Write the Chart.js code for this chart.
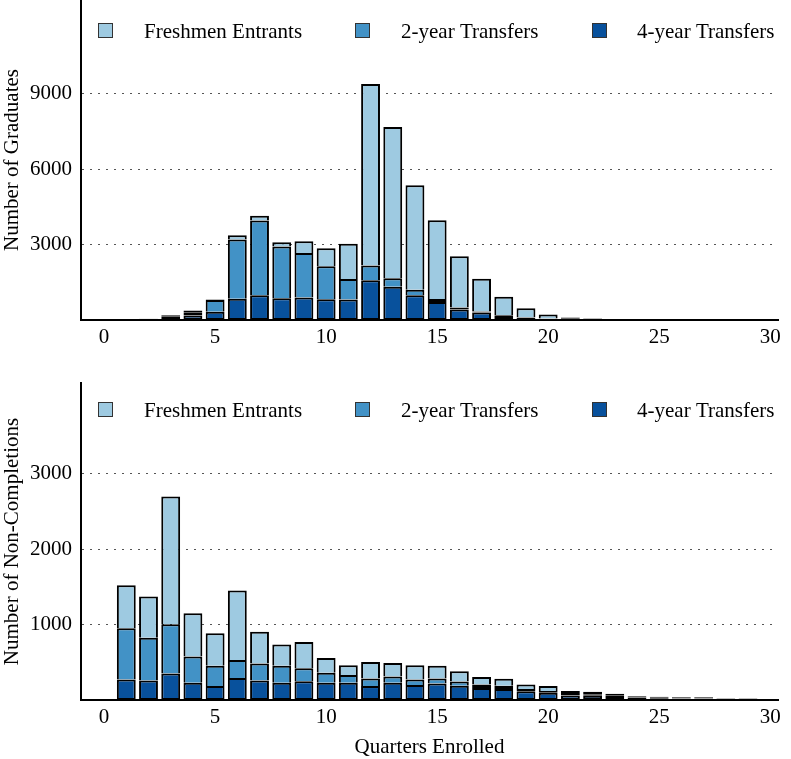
<!DOCTYPE html>
<html>
<head>
<meta charset="utf-8">
<title>Graduates and Non-Completions by Quarters Enrolled</title>
<script src="https://cdn.jsdelivr.net/npm/chart.js@4.4.0/dist/chart.umd.min.js"></script>
<style>
  html, body { margin: 0; padding: 0; background: #fff; }
  #wrap { position: relative; width: 791px; height: 759px; }
  canvas { position: absolute; left: 0; }
  #gradChart { top: 0; }
  #nonCompChart { top: 360px; }
</style>
</head>
<body>
<div id="wrap">
  <canvas id="gradChart" width="791" height="360"></canvas>
  <canvas id="nonCompChart" width="791" height="399"></canvas>
</div>
<script>
// quarters enrolled (x values)
const quarters = [1, 2, 3, 4, 5, 6, 7, 8, 9, 10, 11, 12, 13, 14, 15, 16, 17, 18, 19, 20, 21, 22, 23, 24, 25, 26, 27, 28, 29, 30];
const seriesNames = ['Freshmen Entrants', '2-year Transfers', '4-year Transfers'];

// graduates
const gradFreshmen = [15, 25, 30, 70, 15, 170, 190, 170, 460, 715, 1400, 7225, 6020, 4165, 3125, 2040, 1300, 730, 360, 160, 50, 30, 15, 10, 8, 6, 5, 4, 3, 2];
const gradTwoYear = [5, 5, 10, 130, 470, 2350, 2975, 2055, 1775, 1310, 820, 585, 340, 215, 120, 80, 40, 30, 20, 10, 10, 5, 5, 3, 2, 2, 1, 1, 1, 1];
const gradFourYear = [10, 20, 150, 180, 330, 850, 985, 865, 895, 825, 815, 1580, 1320, 985, 720, 415, 300, 160, 90, 50, 40, 25, 15, 10, 8, 6, 5, 4, 3, 2];

// non-completions
const nonCompFreshmen = [570, 545, 1690, 575, 430, 920, 420, 280, 350, 195, 130, 220, 180, 190, 170, 135, 100, 90, 60, 65, 40, 35, 27, 17, 15, 12, 12, 7, 7, 0];
const nonCompTwoYear = [680, 565, 655, 345, 270, 240, 225, 225, 170, 130, 100, 100, 80, 70, 65, 55, 45, 45, 30, 25, 20, 20, 15, 8, 7, 5, 5, 3, 3, 0];
const nonCompFourYear = [270, 260, 350, 230, 185, 290, 260, 230, 250, 230, 230, 185, 230, 200, 220, 190, 160, 145, 115, 95, 60, 55, 40, 25, 22, 18, 18, 10, 10, 0];

// tick labels
const xTicks = [0, 5, 10, 15, 20, 25, 30];
const gradYTicks = [3000, 6000, 9000];
const nonCompYTicks = [1000, 2000, 3000];

const colors = ['#9ecae1', '#4292c6', '#08519c'];
const legendBoxX = [98, 355, 592];
const legendTextX = [144, 401, 637];
const fontFamily = '"Liberation Serif", "Times New Roman", serif';

Chart.defaults.font.family = fontFamily;
Chart.defaults.font.size = 21;
Chart.defaults.color = '#000';

// legend drawn inside the plot, spaced like the original
const boxLegend = {
  id: 'boxLegend',
  afterDraw(chart, args, opts) {
    const ctx = chart.ctx;
    const sets = chart.data.datasets.slice().reverse();
    ctx.save();
    ctx.font = '21px ' + fontFamily;
    ctx.textBaseline = 'alphabetic';
    sets.forEach((ds, i) => {
      ctx.fillStyle = ds.backgroundColor;
      ctx.fillRect(legendBoxX[i] + 0.5, opts.boxTop + 0.5, 14, 14);
      ctx.strokeStyle = '#333';
      ctx.lineWidth = 1;
      ctx.strokeRect(legendBoxX[i] + 0.5, opts.boxTop + 0.5, 14, 14);
      ctx.fillStyle = '#000';
      ctx.fillText(ds.label, legendTextX[i], opts.baseline);
    });
    ctx.restore();
  }
};

const toPoints = (values) => quarters.map((q, i) => ({ x: q, y: values[i] }));

const bw = 2;
// upper segments skip their bottom edge (the segment below draws it),
// except very thin ones, which then come out fully outlined
const edges = (isBase) => (c) => {
  const y = c.chart.scales.y;
  const v = c.raw ? c.raw.y : 0;
  const h = y ? Math.abs(y.getPixelForValue(0) - y.getPixelForValue(v)) : 99;
  return { top: bw, left: bw, right: bw, bottom: (isBase || h < 2 * bw) ? bw : 0 };
};

const makeChart = (canvasId, fresh, twoYear, fourYear, cfg) => {
  const ctx = document.getElementById(canvasId).getContext('2d');
  return new Chart(ctx, {
    type: 'bar',
    data: {
      datasets: [
        { label: seriesNames[2], data: toPoints(fourYear), backgroundColor: colors[2], borderWidth: edges(true) },
        { label: seriesNames[1], data: toPoints(twoYear), backgroundColor: colors[1], borderWidth: edges(false) },
        { label: seriesNames[0], data: toPoints(fresh), backgroundColor: colors[0], borderWidth: edges(false) },
      ].map(ds => ({ ...ds, borderColor: '#000', borderSkipped: false, barPercentage: 0.85, categoryPercentage: 1 }))
    },
    plugins: [boxLegend],
    options: {
      responsive: false,
      animation: false,
      devicePixelRatio: 1,
      layout: { padding: { top: cfg.padTop, right: 13, left: 0, bottom: 0 } },
      plugins: {
        legend: { display: false },
        tooltip: { enabled: false },
        boxLegend: cfg.legend
      },
      scales: {
        x: {
          type: 'linear',
          stacked: true,
          offset: false,
          min: -1.04,
          max: 30.35,
          afterBuildTicks: (scale) => { scale.ticks = xTicks.map(v => ({ value: v })); },
          afterFit: (scale) => { scale.height = cfg.xHeight; },
          ticks: { padding: 5, maxRotation: 0, callback: (v) => String(v) },
          grid: { display: false, drawTicks: false },
          border: { display: true, color: '#000', width: 2 },
          title: cfg.xTitle ? { display: true, text: cfg.xTitle, padding: { top: 0, bottom: -1 } } : { display: false }
        },
        y: {
          stacked: true,
          min: 0,
          max: cfg.yMax,
          afterBuildTicks: (scale) => { scale.ticks = cfg.yTicks.map(v => ({ value: v })); },
          afterFit: (scale) => {
            scale.width = 81;
            scale.paddingTop = 0;
            scale.paddingBottom = 0;
          },
          ticks: { padding: 9, callback: (v) => String(v) },
          grid: { color: '#555', lineWidth: 1, drawTicks: false },
          border: { display: true, color: '#000', width: 2, dash: [2, 6] },
          title: { display: true, text: cfg.yTitle, padding: 0 }
        }
      }
    }
  });
};

makeChart('gradChart', gradFreshmen, gradTwoYear, gradFourYear, {
  padTop: 0, xHeight: 40, yMax: 12730, yTicks: gradYTicks,
  yTitle: 'Number of Graduates', xTitle: null,
  legend: { boxTop: 23, baseline: 37.7 }
});

makeChart('nonCompChart', nonCompFreshmen, nonCompTwoYear, nonCompFourYear, {
  padTop: 23, xHeight: 59, yMax: 4200, yTicks: nonCompYTicks,
  yTitle: 'Number of Non-Completions', xTitle: 'Quarters Enrolled',
  legend: { boxTop: 42, baseline: 56.7 }
});
</script>
</body>
</html>
